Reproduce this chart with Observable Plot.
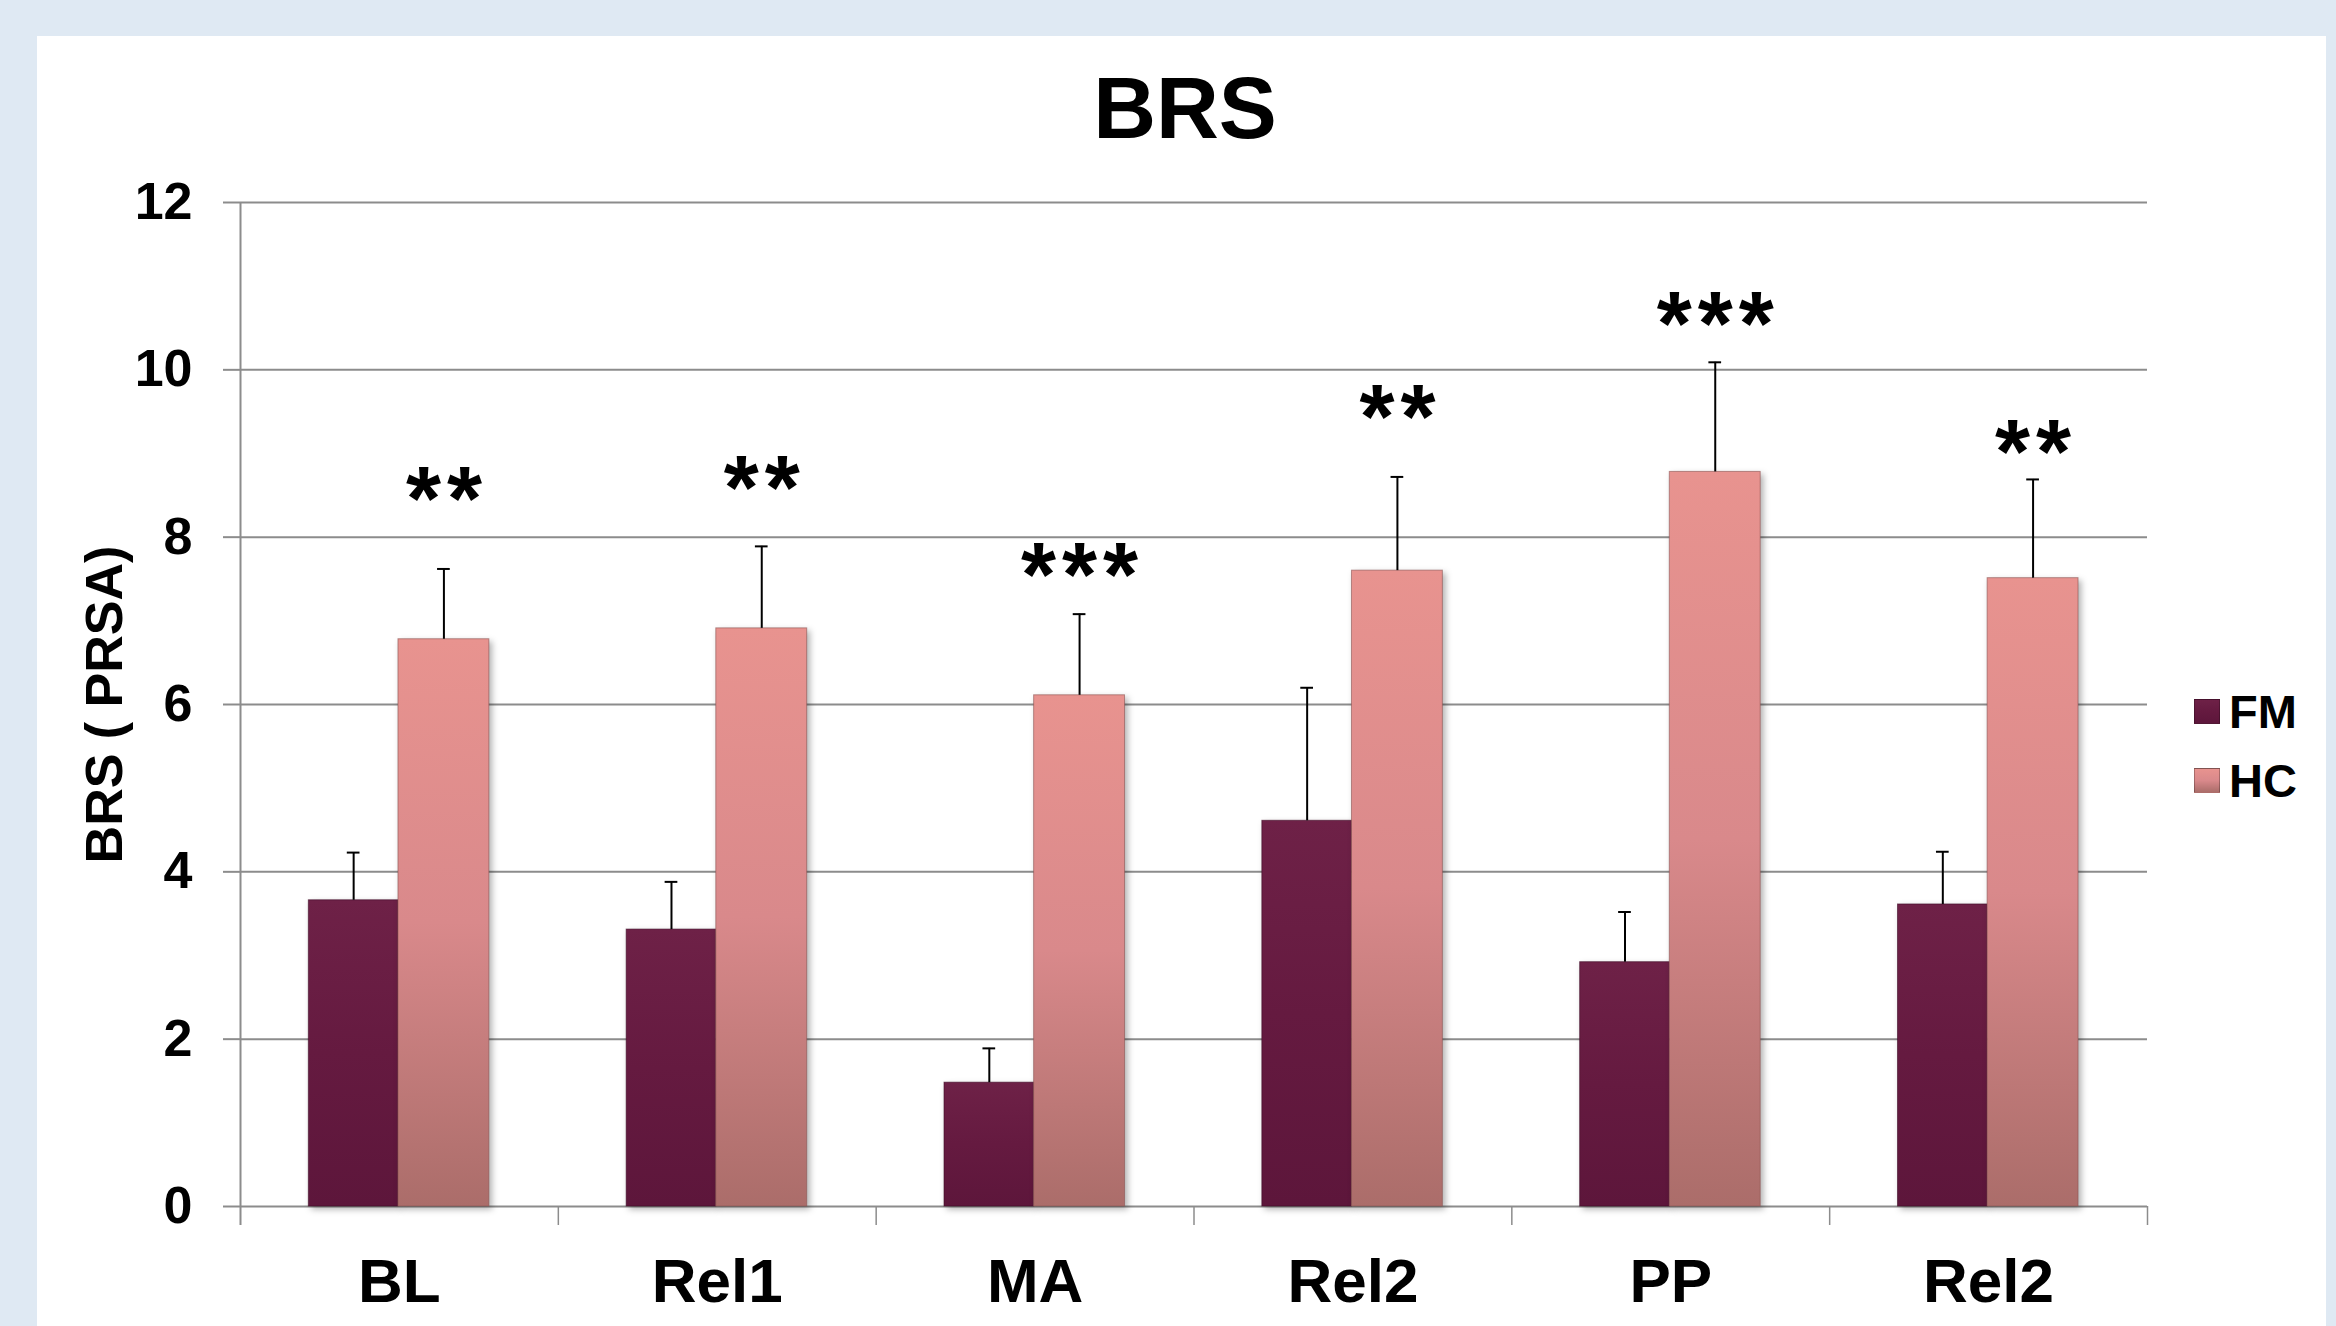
<!DOCTYPE html>
<html>
<head>
<meta charset="utf-8">
<script src="https://cdn.jsdelivr.net/npm/d3@7"></script>
<script src="https://cdn.jsdelivr.net/npm/@observablehq/plot@0.6"></script>
<style>
  html, body { margin: 0; padding: 0; width: 2336px; height: 1326px; overflow: hidden;
    background: #dfe9f3; font-family: "Liberation Sans", Arial, Helvetica, sans-serif; }
  #panel { position: absolute; left: 37px; top: 36px; width: 2289px; height: 1290px; background: #ffffff; }
  #title { position: absolute; left: 685px; width: 1000px; top: 64px; text-align: center;
    font-size: 87px; font-weight: bold; line-height: 1; color: #000; }
  #chart { position: absolute; left: 37px; top: 140px; }
  #chart g[aria-label="rect"] { filter: drop-shadow(3px 3px 3px rgba(0,0,0,0.3)); }
  #chart g[aria-label="text"] text { letter-spacing: 6px; }
  .lg-row { position: absolute; left: 2194px; height: 60px; display: flex; align-items: center; }
  .lg-sw { width: 26px; height: 25px; box-sizing: border-box; border: 1px solid rgba(0,0,0,0.25); }
  .lg-tx { margin-left: 9px; font-size: 47px; font-weight: bold; line-height: 1; color: #000; }
</style>
</head>
<body>
<div id="panel"></div>
<div id="title">BRS</div>
<div id="chart"></div>
<div id="legend"></div>
<script>
// ---- data ----
const categories = ["BL", "Rel1", "MA", "Rel2", "PP", "Rel2"];
const series = ["FM", "HC"];
const fmMean = [3.66, 3.31, 1.48, 4.61, 2.92, 3.61];
const fmErr  = [0.57, 0.57, 0.41, 1.59, 0.60, 0.63];
const hcMean = [6.78, 6.91, 6.11, 7.60, 8.78, 7.51];
const hcErr  = [0.84, 0.98, 0.97, 1.12, 1.31, 1.18];
const stars = ["**", "**", "***", "**", "***", "**"];
const starLevel = [8.57, 8.71, 7.66, 9.55, 10.67, 9.14];
const yTicks = [0, 2, 4, 6, 8, 10, 12];
const yLabel = "BRS ( PRSA)";
const fmStops = ["#6e2147", "#651a40", "#5d163b"];
const hcStops = ["#e8938f", "#d9898b", "#ab6d6a"];

// ---- layout (fractions of a category band) ----
const FM_X = [0.215, 0.497];
const HC_X = [0.497, 0.783];
const fmC = (FM_X[0] + FM_X[1]) / 2;
const hcC = (HC_X[0] + HC_X[1]) / 2;
const CAP = 0.02;

const rows = categories.map((c, i) => ({
  i, cat: c, fm: fmMean[i], fmE: fmErr[i], hc: hcMean[i], hcE: hcErr[i],
  star: stars[i], starY: starLevel[i]
}));

const grey = "#8c8c8c";

const svg = Plot.plot({
  width: 2289,
  height: 1186,
  marginLeft: 203,
  marginRight: 179,
  marginTop: 62,
  marginBottom: 120,
  style: { fontFamily: '"Liberation Sans", Arial, sans-serif', fontWeight: "bold", color: "#000", background: "transparent", overflow: "visible" },
  x: { domain: [0, categories.length] },
  y: { domain: [0, 12] },
  marks: [
    Plot.gridY(yTicks, { stroke: grey, strokeOpacity: 1, strokeWidth: 2 }),
    Plot.ruleX([0], { x: d => d, y1: () => 12, y2: () => 0, insetBottom: -19, stroke: grey, strokeWidth: 2 }),
    Plot.ruleX(d3.range(1, categories.length + 1), { x: d => d, y1: () => 0, y2: () => 0, insetBottom: -19, stroke: grey, strokeWidth: 1.5 }),
    Plot.rectY(rows, { x1: d => d.i + FM_X[0], x2: d => d.i + FM_X[1], y1: () => 0, y2: d => d.fm,
      fill: "url(#gFM)", stroke: "#3f0c26", strokeOpacity: 0.6, strokeWidth: 1 }),
    Plot.rectY(rows, { x1: d => d.i + HC_X[0], x2: d => d.i + HC_X[1], y1: () => 0, y2: d => d.hc,
      fill: "url(#gHC)", stroke: "#8a5452", strokeOpacity: 0.6, strokeWidth: 1 }),
    Plot.ruleX(rows, { x: d => d.i + fmC, y1: d => d.fm, y2: d => d.fm + d.fmE, stroke: "#000", strokeWidth: 2 }),
    Plot.ruleY(rows, { y: d => d.fm + d.fmE, x1: d => d.i + fmC - CAP, x2: d => d.i + fmC + CAP, stroke: "#000", strokeWidth: 2 }),
    Plot.ruleX(rows, { x: d => d.i + hcC, y1: d => d.hc, y2: d => d.hc + d.hcE, stroke: "#000", strokeWidth: 2 }),
    Plot.ruleY(rows, { y: d => d.hc + d.hcE, x1: d => d.i + hcC - CAP, x2: d => d.i + hcC + CAP, stroke: "#000", strokeWidth: 2 }),
    Plot.text(rows, { x: d => d.i + hcC, y: d => d.starY, text: d => d.star, fontSize: 90, fontWeight: "bold", fill: "#000", dy: 12, dx: 3 }),
    Plot.axisY(yTicks, { anchor: "left", tickSize: 17, tickPadding: 31, stroke: grey, strokeWidth: 2,
      tickFormat: d => String(d),
      fontSize: 52, fontWeight: "bold", fill: "#000",
      label: yLabel, labelAnchor: "center", labelOffset: 155, labelArrow: "none" }),
    Plot.axisX(categories.map((c, i) => i + 0.5), { anchor: "bottom", tickSize: 0, tickPadding: 51,
      tickFormat: d => categories[Math.floor(d)], fontSize: 62, fontWeight: "bold", fill: "#000", label: null })
  ]
});

const ns = "http://www.w3.org/2000/svg";
const defs = document.createElementNS(ns, "defs");
function grad(id, stops) {
  const g = document.createElementNS(ns, "linearGradient");
  g.setAttribute("id", id);
  g.setAttribute("x1", "0"); g.setAttribute("y1", "0");
  g.setAttribute("x2", "0"); g.setAttribute("y2", "1");
  stops.forEach((c, k) => {
    const s = document.createElementNS(ns, "stop");
    s.setAttribute("offset", (k / (stops.length - 1) * 100) + "%");
    s.setAttribute("stop-color", c);
    g.appendChild(s);
  });
  defs.appendChild(g);
}
grad("gFM", fmStops);
grad("gHC", hcStops);
svg.insertBefore(defs, svg.firstChild);
document.getElementById("chart").appendChild(svg);

// legend
const legend = document.getElementById("legend");
const legendStops = [fmStops, hcStops];
series.forEach((s, k) => {
  const row = document.createElement("div");
  row.className = "lg-row";
  row.style.top = (681 + k * 69) + "px";
  const sw = document.createElement("div");
  sw.className = "lg-sw";
  sw.style.background = `linear-gradient(to bottom, ${legendStops[k].join(", ")})`;
  const tx = document.createElement("span");
  tx.className = "lg-tx";
  tx.textContent = s;
  row.appendChild(sw); row.appendChild(tx);
  legend.appendChild(row);
});
</script>
</body>
</html>
